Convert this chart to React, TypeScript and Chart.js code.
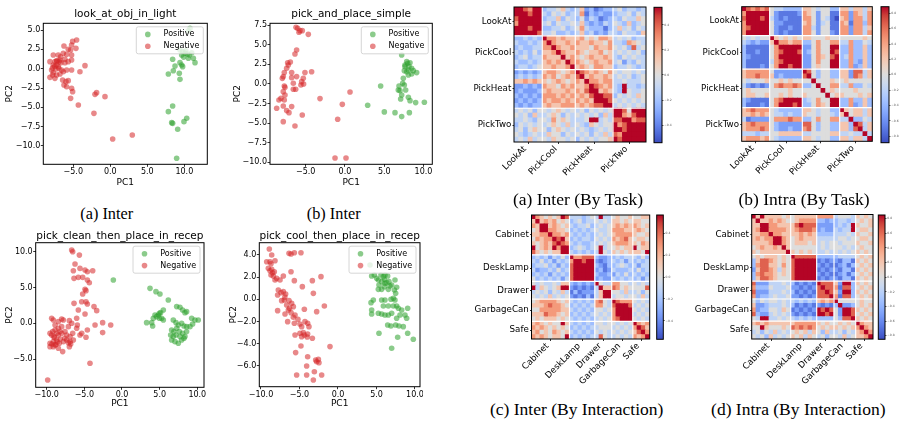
import React, { useEffect, useRef } from 'react';
import { Chart, registerables } from 'chart.js';

Chart.register(...registerables);

const SANS = '"DejaVu Sans", "Liberation Sans", sans-serif';
const SERIF = '"Liberation Serif", "Times New Roman", serif';
const POS_COLOR = 'rgba(44,160,44,0.55)';
const NEG_COLOR = 'rgba(214,39,40,0.55)';

// ---------------- scatter data (PC1, PC2) ----------------
const lookAtPositive = [
  [10.77, 5.22], [10.54, 4.91], [9.41, 2.41], [9.77, 2.2], [10.09, 1.98], [10.41, 1.9], [10.68, 1.77], [9.64, 1.77],
  [10.99, 2.07], [11.22, 1.34], [11.44, 0.78], [10.54, 1.34], [8.42, 1.21], [9.41, 0.78], [8.74, 0.34], [9.64, 0.47],
  [9.77, 0.26], [8.51, -0.26], [7.84, -0.69], [9.32, -0.6], [9.41, -1.38], [8.42, -4.83], [7.84, -5.56], [8.29, -6.98],
  [8.42, -7.07], [10.32, -6.42], [9.95, -6.85], [9.1, -7.84], [8.96, -11.59], [10.2, 2.3], [9.9, 1.5],
];
const lookAtNegative = [
  [-5.09, 3.53], [-4.55, 3.71], [-5.23, 3.06], [-6.26, 2.93], [-5.68, 2.5], [-4.64, 2.63], [-5.36, 2.41], [-6.35, 1.98],
  [-7.03, 1.77], [-7.7, 1.77], [-5.9, 1.85], [-5.23, 1.77], [-6.71, 1.55], [-6.13, 1.21], [-6.8, 1.12], [-7.25, 1.03],
  [-7.48, 0.91], [-6.67, 0.78], [-6.13, 0.78], [-5.68, 0.91], [-5.23, 1.12], [-8.15, 0.91], [-7.7, 0.47], [-7.25, 0.47],
  [-7.03, 0.26], [-7.34, -0.04], [-6.94, 0.04], [-6.58, -0.17], [-5.9, -0.17], [-5.23, -0.17], [-4.1, -0.39], [-3.42, 0.39],
  [-8.15, -1.12], [-7.79, -0.82], [-7.48, -1.25], [-7.93, -0.17], [-7.7, -0.52], [-7.25, -0.82], [-6.8, -0.69], [-6.35, -0.39],
  [-6.44, -1.47], [-5.99, -1.68], [-5.68, -1.55], [-6.26, -2.11], [-5.9, -2.33], [-5.23, -2.54], [-5.09, -2.97], [-5.36, -3.84],
  [-4.32, -4.7], [-1.85, -3.1], [-2.07, -3.32], [-0.72, -3.62], [-2.21, -5.78], [0.32, -9.09], [2.97, -8.58],
  [-7.2, 1.0], [-6.9, 0.9], [-7.5, 0.3], [-7.8, 0.1],
];
const pickPlacePositive = [
  [7.22, 3.7], [7.86, 2.85], [7.98, 2.64], [8.28, 2.72], [7.64, 2.21], [8.15, 2.21], [8.49, 2.0], [7.56, 1.7],
  [7.86, 1.57], [8.7, 1.7], [8.07, 1.15], [8.49, 1.28], [9.13, 1.45], [7.43, 0.72], [7.35, 0.09], [6.88, -0.26],
  [7.56, -0.13], [6.79, -0.77], [7.01, -0.85], [7.73, -0.77], [7.22, -1.4], [7.09, -1.91], [8.07, -1.7], [8.28, -2.13],
  [9.0, -2.38], [10.11, -2.34], [4.54, -0.26], [2.89, -2.72], [5.01, -3.57], [6.37, -3.66], [7.22, -4.17], [8.2, -3.66],
  [7.64, 2.43], [8.07, 1.79],
];
const pickPlaceNegative = [
  [-6.24, 7.23], [-6.03, 7.11], [-5.86, 6.6], [-5.44, 6.81], [-5.73, 6.81], [-4.67, 6.34], [-6.16, 4.34], [-6.37, 3.83],
  [-7.22, 2.43], [-7.3, 2.72], [-6.96, 2.81], [-7.43, 2.0], [-7.73, 1.45], [-7.86, 0.94], [-7.98, 0.72], [-6.79, 1.45],
  [-6.79, 0.81], [-6.16, 0.94], [-5.1, 1.45], [-4.25, 1.57], [-5.31, 0.72], [-5.52, 0.3], [-5.61, -0.13], [-5.27, 0.0],
  [-6.58, 0.09], [-7.73, -0.26], [-7.86, -0.98], [-7.64, -0.43], [-6.58, -0.68], [-6.28, -0.68], [-7.64, -1.4], [-8.15, -1.83],
  [-8.41, -2.04], [-7.73, -2.04], [-7.86, -2.81], [-8.7, -3.11], [-7.43, -3.4], [-6.79, -2.89], [-7.13, -3.66], [-5.44, -3.96],
  [-7.86, -4.81], [-6.37, -5.36], [-3.18, -1.87], [-0.34, -2.6], [-0.93, -4.51], [0.64, -1.02], [-1.27, -9.45], [0.13, -9.45],
];
const pickCleanPositive = [
  [-1.15, 6.05], [3.72, 4.88], [4.51, 4.42], [5.04, 4.09], [6.15, 3.26], [5.49, 1.86], [5.13, 1.49], [4.82, 1.16],
  [4.6, 0.93], [4.16, 0.7], [3.94, 0.09], [3.27, 0.09], [4.07, -0.37], [4.96, 0.7], [5.27, 0.7], [5.49, 0.47],
  [4.38, 1.16], [4.96, 1.4], [7.26, 2.33], [7.7, 2.23], [8.05, 1.86], [8.36, 1.49], [8.58, 1.63], [6.81, 0.47],
  [7.17, 0.09], [7.48, -0.23], [7.92, 0.0], [8.23, -0.37], [8.58, -0.47], [7.26, -0.7], [7.61, -1.16], [8.05, -1.4],
  [8.36, -1.86], [7.7, -1.86], [7.17, -1.63], [6.81, -1.86], [6.59, -2.33], [7.04, -2.56], [7.48, -2.79], [7.92, -2.33],
  [8.23, -2.09], [8.58, -1.16], [9.03, -0.47], [9.38, -0.09], [9.69, 0.47], [10.13, 0.47], [9.25, 0.7], [6.59, -0.93],
  [6.9, -1.16], [6.46, -1.63],
];
const pickCleanNegative = [
  [-6.68, 10.23], [-6.55, 10.0], [-5.66, 9.53], [-6.24, 8.28], [-5.58, 7.67], [-4.91, 7.44], [-4.6, 7.21], [-3.89, 7.35],
  [-6.46, 7.35], [-5.22, 6.42], [-6.37, 6.28], [-5.8, 6.42], [-4.6, 6.05], [-4.34, 5.67], [-4.91, 4.74], [-4.78, 4.56],
  [-5.22, 4.09], [-5.35, 3.02], [-4.78, 3.02], [-4.6, 2.7], [-6.37, 2.79], [-5.8, 1.86], [-3.72, 2.33], [-3.36, 1.77],
  [-4.91, 1.3], [-3.58, -0.23], [-2.57, 0.09], [-1.5, -0.23], [-4.6, -0.93], [-5.35, -1.4], [-4.78, -1.95], [-2.57, -1.3],
  [-4.25, -5.58], [-9.87, -7.91],
  [-9.34, 0.7], [-9.12, 0.47], [-8.01, 0.6], [-7.79, 0.47], [-8.45, 0.23], [-6.99, 0.37], [-6.68, 0.0], [-6.02, 0.7],
  [-5.93, -0.23], [-7.12, -0.47], [-8.01, -0.47], [-8.45, -0.7], [-8.89, -0.93], [-9.2, -1.16], [-9.56, -1.4], [-9.34, -1.63],
  [-9.03, -1.86], [-8.45, -1.63], [-8.01, -1.4], [-7.57, -1.16], [-7.35, -1.63], [-6.9, -1.86], [-6.55, -1.4], [-5.58, -1.63],
  [-6.02, -0.7], [-8.67, -2.33], [-9.12, -2.56], [-9.56, -2.79], [-8.89, -3.02], [-8.32, -2.79], [-7.79, -2.56], [-7.35, -2.33],
  [-6.9, -2.56], [-6.81, -2.88], [-9.56, -3.26], [-9.12, -3.26], [-8.45, -3.49], [-7.88, -3.95], [-6.99, -3.26], [-7.12, -2.7],
  [-6.46, -2.33], [-8.67, -1.4], [-8.23, -1.16], [-8.89, -0.23], [-9.0, -2.0], [-8.6, -2.6], [-8.2, -2.2], [-8.8, -3.0],
  [-9.3, -2.9], [-7.6, -2.1],
];
const pickCoolPositive = [
  [4.16, 3.09], [4.37, 2.1], [4.72, 2.19], [5.02, 1.89], [5.24, 1.74], [5.58, 2.19], [5.89, 2.04], [6.1, 2.19],
  [6.45, 2.1], [6.02, 1.8], [6.62, 1.59], [6.32, 1.5], [6.75, 1.2], [6.02, 1.14], [6.54, 0.9], [5.67, 0.9],
  [5.24, 0.9], [6.97, 1.29], [7.4, 1.74], [7.62, 1.08], [7.32, 0.84], [7.49, 0.54], [7.19, 0.09], [7.4, -0.06],
  [6.88, 0.0], [6.1, -0.06], [5.67, -0.06], [4.59, -0.06], [4.29, -0.3], [5.89, -0.6], [6.54, -0.6], [7.19, -0.6],
  [7.62, -0.6], [7.84, -0.81], [8.27, -0.96], [9.05, -0.81], [8.7, -1.41], [8.05, -1.41], [7.62, -1.71], [6.97, -1.26],
  [6.54, -1.41], [6.1, -1.41], [5.67, -1.32], [5.24, -1.26], [4.37, -0.96], [4.37, -1.32], [6.45, -2.31], [6.88, -2.4],
  [7.49, -2.31], [7.92, -2.4], [8.92, -1.71], [8.48, -2.46], [9.05, -3.06], [9.78, -3.6], [7.75, -3.42], [5.32, -3.06],
  [6.97, -4.41], [6.1, 1.44], [5.67, 1.59], [5.32, 1.29],
];
const pickCoolNegative = [
  [-8.92, 4.53], [-8.61, 3.99], [-9.26, 3.39], [-8.83, 3.39], [-8.18, 3.48], [-9.05, 2.79], [-8.83, 2.58], [-8.61, 2.7],
  [-8.27, 2.49], [-8.7, 2.19], [-8.4, 2.1], [-8.18, 1.74], [-7.97, 1.89], [-7.53, 1.74], [-6.36, 4.14], [-6.1, 4.08],
  [-5.67, 4.2], [-4.81, 4.2], [-7.1, 2.1], [-6.1, 2.49], [-5.67, 1.68], [-4.63, 1.14], [-3.33, 1.68], [-2.21, 2.04],
  [-3.2, 0.54], [-7.75, 0.84], [-7.4, 0.6], [-7.84, 0.39], [-7.1, 0.69], [-6.8, 0.48], [-6.97, -0.06], [-7.32, -0.12],
  [-6.36, -0.12], [-6.02, -0.36], [-6.67, -0.51], [-5.8, -0.66], [-7.84, -1.02], [-6.45, -0.96], [-6.88, -1.32], [-6.1, -1.2],
  [-5.58, -1.41], [-5.8, -1.62], [-4.37, -0.9], [-2.77, -1.11], [-1.77, -0.6], [-6.54, -2.01], [-5.67, -2.16], [-4.94, -2.22],
  [-4.72, -2.46], [-4.29, -2.01], [-3.94, -2.16], [-3.77, -2.46], [-5.58, -3.21], [-4.94, -3.06], [-4.37, -3.21], [-4.72, -3.36],
  [-3.94, -3.12], [-3.33, -3.51], [-4.81, -4.2], [-5.5, -4.8], [-3.94, -5.17], [-2.9, -5.47], [-2.77, -5.62], [-2.47, -5.71],
  [-2.55, -5.41], [-4.07, -6.01], [-5.37, -6.82], [-4.07, -6.82], [-3.07, -6.52], [-3.2, -7.27], [-2.12, -6.82], [-1.04, -4.26],
  [-8.7, 3.2], [-8.5, 2.4], [-6.3, -0.8], [-5.2, -1.8], [-4.0, -3.4], [-6.9, 0.2], [-4.5, -3.0],
];

const ticksHalfStep = [7.5, 5, 2.5, 0, -2.5, -5, -7.5, -10];
const ticksFive = [-10, -5, 0, 5, 10];
const ticksLookY = [5, 2.5, 0, -2.5, -5, -7.5, -10];
const ticksCleanY = [10, 5, 0, -5];
const ticksCoolY = [4, 2, 0, -2, -4, -6];

// ---------------- heatmap data (colour level 0 = deep blue ... 9 = deep red) ----------------
const taskLabels = ['LookAt', 'PickCool', 'PickHeat', 'PickTwo'];
const taskBlocks = [6, 7, 8, 7];
const interactionLabels = ['Cabinet', 'DeskLamp', 'Drawer', 'GarbageCan', 'Safe'];
const interactionBlocks = [9, 6, 4, 5, 4];

const interTaskRows = [
  '998799 3445643 46231233 4534434',
  '999899 4354534 47132322 3445354',
  '899999 3446354 35243123 4354465',
  '799999 4535445 46323243 5436345',
  '999899 3344534 57433313 4645354',
  '999998 4453343 46342324 4354436',
  '334343 9776766 67565776 4545344',
  '433434 7976676 76676657 4437654',
  '343344 7797667 66657667 5453845',
  '434353 6679766 76566756 4545453',
  '345344 7666967 65676676 4354544',
  '433434 6767697 76567667 4524354',
  '344345 6676679 67657766 3445434',
  '232323 6776567 98767657 5455454',
  '343434 7675676 89676676 4545345',
  '667676 6567656 76977677 4454445',
  '223232 7665767 66798767 4394434',
  '232223 6766676 76899676 4395445',
  '323232 7776767 67689988 3545465',
  '232323 7677676 76769998 5454545',
  '323233 6766777 67678899 4545454',
  '454535 5456545 45354545 9985999',
  '545364 4565354 54545364 9976899',
  '445435 5475654 44599454 8899788',
  '354545 4565464 54365455 9789999',
  '453565 5356545 45434545 9989999',
  '543454 4655354 54535464 8799999',
  '454645 5465545 35454556 9899999',
];
const intraTaskRows = [
  '987878 5443333 66545533 6646646',
  '799999 5211112 76525511 7727647',
  '899989 4212111 77525410 6727747',
  '799999 5221111 67524511 7617737',
  '789999 5211211 77425511 7727746',
  '799999 5212111 77525521 7727747',
  '545455 9656565 66555655 5555565',
  '432322 6977677 33575577 4473354',
  '311111 5799999 22575599 3373363',
  '311211 5789998 23575598 3373363',
  '321111 5799999 22576589 3473363',
  '311111 4789999 22575599 3373263',
  '311121 5799899 22565599 3372363',
  '677777 5222222 98535533 6628846',
  '677877 6232222 89535533 6628746',
  '545556 5565655 55955565 5655555',
  '421212 5787787 33595577 4473354',
  '565555 5555655 55559565 5556555',
  '566556 5565655 65555956 6555656',
  '321111 5789999 34575599 3373363',
  '311121 5799989 33576599 3372363',
  '678777 5433333 66545533 9656646',
  '667676 5443433 65545543 6956646',
  '412222 5777877 33575577 4493354',
  '678777 5322222 88535533 6639846',
  '677787 5322322 78535533 6638946',
  '444344 5566666 44555566 4454494',
  '677767 5433333 66545533 6646649',
];
const interInteractionRows = [
  '976565698 444345 4944 56556 5566',
  '696767565 345344 5454 66565 6655',
  '769967656 434453 4545 67676 7656',
  '569977665 343434 5445 77766 6765',
  '667797767 434343 4545 67777 6556',
  '576779896 343443 5454 76786 5665',
  '656768987 434334 4545 67776 6576',
  '956769799 345434 5945 56566 9566',
  '865656699 434343 4954 65656 6659',
  '343424353 977888 3223 34344 4353',
  '435342434 799899 2123 43424 3434',
  '344534243 899999 3213 34543 4244',
  '423343534 899999 2312 43334 3534',
  '343424343 899999 3223 24353 4343',
  '534343424 899999 2322 43434 3424',
  '545445466 323232 9544 77554 5454',
  '946545699 212121 4966 87565 5558',
  '454535464 131222 4699 55464 4535',
  '545464545 212131 4699 45545 5464',
  '567777656 434343 7854 98777 5454',
  '666787765 343434 7754 89998 4545',
  '557777766 434343 5545 79999 5454',
  '666877656 343434 5454 79999 4545',
  '565666565 434343 4545 78999 5454',
  '676565596 434343 5545 54545 9767',
  '767656565 343434 4555 45454 7986',
  '675657656 434343 5454 54545 6897',
  '767656659 343434 4854 45454 7679',
];
const intraInteractionRows = [
  '969666656 566666 7777 45554 6565',
  '696676765 567777 3323 34434 5656',
  '669977666 689888 2222 34349 6556',
  '679977776 678887 2322 43449 5665',
  '667797766 667676 3333 44454 6556',
  '676779976 567666 4444 45545 5665',
  '666679976 566656 4545 54555 6556',
  '567667696 555555 4545 55454 5655',
  '656666669 656565 4454 54545 6565',
  '565666565 988888 3333 34444 5656',
  '368876565 899999 1212 21331 6565',
  '378866575 899999 2121 12313 5656',
  '268876465 899999 1212 21331 6565',
  '378776565 899999 2121 12313 5656',
  '368876555 899999 1212 21331 6565',
  '822244454 312121 9888 62993 6565',
  '733354445 221212 8988 71883 5656',
  '822244454 312121 8898 62993 6565',
  '723345445 221212 8889 71883 5656',
  '535455454 434343 6767 95555 5655',
  '622344454 312121 2121 39223 5656',
  '723355465 121212 9898 52998 6565',
  '832245454 212121 9989 52998 5656',
  '549944545 434343 3333 53889 6565',
  '676766666 677777 6565 56565 9766',
  '559655565 878787 5656 65656 7976',
  '453546454 565646 5364 45354 6797',
  '545364545 656465 4535 54645 6679',
];

const cbarTicksSmall = [0.4, 0.2, 0, -0.2, -0.4];
const cbarTicksLarge = [0.8, 0.6, 0.4, 0.2, 0, -0.2, -0.4, -0.6, -0.8];

// ---------------- colour map ----------------
const LEVEL_T = [0, 0.1, 0.2, 0.3, 0.4, 0.5, 0.62, 0.75, 0.87, 1];
const COOLWARM = [
  [0, 59, 76, 192], [0.0625, 77, 104, 215], [0.125, 98, 130, 234], [0.1875, 119, 154, 247],
  [0.25, 141, 176, 254], [0.3125, 163, 194, 255], [0.375, 184, 208, 249], [0.4375, 204, 217, 238],
  [0.5, 221, 221, 221], [0.5625, 236, 211, 197], [0.625, 245, 196, 173], [0.6875, 247, 177, 148],
  [0.75, 244, 154, 123], [0.8125, 236, 127, 99], [0.875, 222, 96, 77], [0.9375, 203, 62, 56], [1, 180, 4, 38],
];
function coolwarm(t: number): string {
  const tt = Math.max(0, Math.min(1, t));
  for (let i = 1; i < COOLWARM.length; i++) {
    const a = COOLWARM[i - 1];
    const b = COOLWARM[i];
    if (tt <= b[0]) {
      const f = (tt - a[0]) / (b[0] - a[0]);
      const r = Math.round(a[1] + (b[1] - a[1]) * f);
      const g = Math.round(a[2] + (b[2] - a[2]) * f);
      const bl = Math.round(a[3] + (b[3] - a[3]) * f);
      return `rgb(${r},${g},${bl})`;
    }
  }
  return 'rgb(180,4,38)';
}

const fmtTick = (v: number, digits = 1) => (v < 0 ? '\u2212' : '') + Math.abs(v).toFixed(digits);

// ---------------- plugins ----------------
const framePlugin = {
  id: 'frame',
  afterDatasetsDraw(chart: any) {
    const { ctx, chartArea: a } = chart;
    ctx.save();
    ctx.strokeStyle = '#000';
    ctx.lineWidth = 1;
    ctx.strokeRect(a.left, a.top, a.right - a.left, a.bottom - a.top);
    ctx.restore();
  },
};

const legendPlugin = {
  id: 'insideLegend',
  afterDraw(chart: any) {
    const { ctx, chartArea: a } = chart;
    const w = 67;
    const h = 27;
    const x0 = a.right - 4 - w;
    const y0 = a.top + 3.5;
    ctx.save();
    ctx.fillStyle = 'rgba(255,255,255,0.8)';
    ctx.strokeStyle = '#cccccc';
    ctx.lineWidth = 0.8;
    ctx.beginPath();
    ctx.roundRect(x0, y0, w, h, 2);
    ctx.fill();
    ctx.stroke();
    const items = chart.data.datasets;
    items.forEach((ds: any, i: number) => {
      const cy = y0 + 7.6 + i * 11.8;
      ctx.fillStyle = ds.backgroundColor;
      ctx.beginPath();
      ctx.arc(x0 + 11.5, cy, 2.8, 0, Math.PI * 2);
      ctx.fill();
      ctx.fillStyle = '#000';
      ctx.font = `8px ${SANS}`;
      ctx.textBaseline = 'middle';
      ctx.textAlign = 'left';
      ctx.fillText(ds.label, x0 + 27.3, cy);
    });
    ctx.restore();
  },
};

// ---------------- scatter panel ----------------
interface ScatterSpec {
  title: string;
  pos: number[][];
  neg: number[][];
  xMin: number; xMax: number; yMin: number; yMax: number;
  xTicks: number[]; yTicks: number[];
  L: number; T: number; R: number; B: number;
  titleY: number; pc1Y: number; pc2X: number;
}

function ScatterPanel({ spec }: { spec: ScatterSpec }) {
  const ref = useRef<HTMLCanvasElement>(null);
  const cl = Math.floor(spec.pc2X - 7);
  const ct = Math.floor(spec.titleY - 8);
  const cr = Math.ceil(spec.R + 3);
  const cb = Math.ceil(spec.pc1Y + 7);
  const W = cr - cl;
  const H = cb - ct;
  useEffect(() => {
    const yW = spec.L - cl;
    const xH = cb - spec.B;
    const tlh = 10.5 * 1.2;
    const grid = { drawOnChartArea: false, drawTicks: true, tickLength: 2.5, color: '#000', lineWidth: 0.8 };
    const tickFont = { family: SANS, size: 8 };
    const chart = new Chart(ref.current as HTMLCanvasElement, {
      type: 'scatter',
      data: {
        datasets: [
          { label: 'Positive', data: spec.pos.map(([x, y]) => ({ x, y })), backgroundColor: POS_COLOR, borderWidth: 0, pointRadius: 2.8, pointHoverRadius: 2.8 },
          { label: 'Negative', data: spec.neg.map(([x, y]) => ({ x, y })), backgroundColor: NEG_COLOR, borderWidth: 0, pointRadius: 2.8, pointHoverRadius: 2.8 },
        ],
      },
      options: {
        responsive: false,
        animation: false,
        events: [],
        layout: { padding: { left: 0, top: 0, right: cr - spec.R, bottom: 0 } },
        plugins: {
          legend: { display: false },
          tooltip: { enabled: false },
          title: {
            display: true,
            fullSize: false,
            text: spec.title,
            color: '#000',
            font: { family: SANS, size: 10.5, weight: 'normal', lineHeight: 1.2 },
            padding: { top: spec.titleY - ct - tlh / 2, bottom: spec.T - spec.titleY - tlh / 2 },
          },
        },
        scales: {
          x: {
            type: 'linear',
            min: spec.xMin,
            max: spec.xMax,
            afterBuildTicks: (s: any) => { s.ticks = spec.xTicks.map((v) => ({ value: v })); },
            afterFit: (s: any) => { s.height = xH; s.paddingLeft = 0; s.paddingRight = 0; },
            ticks: { color: '#000', font: tickFont, padding: 0.5, maxRotation: 0, autoSkip: false, callback: (v: any) => fmtTick(Number(v)) },
            grid,
            border: { display: false },
            title: { display: true, text: 'PC1', color: '#000', font: { family: SANS, size: 9, lineHeight: 1.2 }, padding: { top: 0, bottom: cb - spec.pc1Y - 5.4 } },
          },
          y: {
            type: 'linear',
            min: spec.yMin,
            max: spec.yMax,
            afterBuildTicks: (s: any) => { s.ticks = spec.yTicks.map((v) => ({ value: v })); },
            afterFit: (s: any) => { s.width = yW; s.paddingTop = 0; s.paddingBottom = 0; },
            ticks: { color: '#000', font: tickFont, padding: 0.5, autoSkip: false, callback: (v: any) => fmtTick(Number(v)) },
            grid,
            border: { display: false },
            title: { display: true, text: 'PC2', color: '#000', font: { family: SANS, size: 9, lineHeight: 1.2 }, padding: { top: spec.pc2X - cl - 5.4, bottom: 0 } },
          },
        },
      } as any,
      plugins: [framePlugin, legendPlugin],
    });
    return () => chart.destroy();
  }, []);
  return <canvas ref={ref} width={W} height={H} style={{ position: 'absolute', left: cl, top: ct, width: W, height: H }} />;
}

// ---------------- heatmap panel ----------------
interface HeatSpec {
  rows: string[];
  labels: string[];
  blocks: number[];
  L: number; T: number; R: number; B: number;
  canvasLeft: number;
}

function HeatmapPanel({ spec }: { spec: HeatSpec }) {
  const ref = useRef<HTMLCanvasElement>(null);
  const cl = spec.canvasLeft;
  const ct = Math.floor(spec.T - 3);
  const cr = Math.ceil(spec.R + 3);
  const xH = 50;
  const cb = Math.ceil(spec.B + xH);
  const W = cr - cl;
  const H = cb - ct;
  useEffect(() => {
    const grid = spec.rows.map((r) => r.replace(/ /g, '').split('').map(Number));
    const n = grid.length;
    const cells: any[] = [];
    const colors: string[] = [];
    grid.forEach((row, r) => row.forEach((lvl, c) => {
      cells.push({ x: c + 0.5, y: [r, r + 1] });
      colors.push(coolwarm(LEVEL_T[lvl]));
    }));
    const bounds: number[] = [];
    const centers: number[] = [];
    let acc = 0;
    spec.blocks.forEach((b, i) => {
      centers.push(acc + b / 2);
      acc += b;
      if (i < spec.blocks.length - 1) bounds.push(acc);
    });
    const yW = spec.L - cl;
    const realH = cb - spec.B;
    const overlay = {
      id: 'heatOverlay',
      afterDatasetsDraw(chart: any) {
        const { ctx, chartArea: a, scales } = chart;
        ctx.save();
        ctx.strokeStyle = '#fff';
        ctx.lineWidth = 1.2;
        bounds.forEach((b) => {
          const px = scales.x.getPixelForValue(b);
          const py = scales.y.getPixelForValue(b);
          ctx.beginPath(); ctx.moveTo(px, a.top); ctx.lineTo(px, a.bottom); ctx.stroke();
          ctx.beginPath(); ctx.moveTo(a.left, py); ctx.lineTo(a.right, py); ctx.stroke();
        });
        ctx.strokeStyle = '#000';
        ctx.lineWidth = 1;
        ctx.strokeRect(a.left, a.top, a.right - a.left, a.bottom - a.top);
        ctx.restore();
      },
    };
    const gridOpts = { drawOnChartArea: false, drawTicks: true, tickLength: 2, color: '#000', lineWidth: 0.8, offset: false };
    const font = { family: SANS, size: 8.7 };
    const chart = new Chart(ref.current as HTMLCanvasElement, {
      type: 'bar',
      data: {
        datasets: [{ data: cells, backgroundColor: colors, borderWidth: 0, barPercentage: 1, categoryPercentage: 1, inflateAmount: 0.4 }],
      },
      options: {
        responsive: false,
        animation: false,
        events: [],
        layout: { padding: { left: 0, top: spec.T - ct, right: cr - spec.R, bottom: 0 } },
        plugins: { legend: { display: false }, tooltip: { enabled: false } },
        scales: {
          x: {
            type: 'linear', min: 0, max: n, offset: false,
            afterBuildTicks: (s: any) => { s.ticks = centers.map((v) => ({ value: v })); },
            afterFit: (s: any) => { s.height = realH; s.paddingLeft = 0; s.paddingRight = 0; },
            ticks: { autoSkip: false, minRotation: 45, maxRotation: 45, padding: 0, labelOffset: -3, color: '#000', font, callback: (_v: any, i: number) => spec.labels[i] },
            grid: gridOpts,
            border: { display: false },
          },
          y: {
            type: 'linear', min: 0, max: n, reverse: true, offset: false,
            afterBuildTicks: (s: any) => { s.ticks = centers.map((v) => ({ value: v })); },
            afterFit: (s: any) => { s.width = yW; s.paddingTop = 0; s.paddingBottom = 0; },
            ticks: { autoSkip: false, padding: 1.2, color: '#000', font, callback: (_v: any, i: number) => spec.labels[i] },
            grid: { ...gridOpts, tickLength: 1.5 },
            border: { display: false },
          },
        },
      } as any,
      plugins: [overlay],
    });
    return () => chart.destroy();
  }, []);
  return <canvas ref={ref} width={W} height={H} style={{ position: 'absolute', left: cl, top: ct, width: W, height: H }} />;
}

// ---------------- colour bar ----------------
interface CbarSpec { L: number; T: number; R: number; B: number; vmax: number; ticks: number[] }

function ColorBar({ spec }: { spec: CbarSpec }) {
  const ref = useRef<HTMLCanvasElement>(null);
  const cl = Math.floor(spec.L) - 1;
  const ct = Math.floor(spec.T) - 2;
  const cr = Math.ceil(spec.R) + 12;
  const cb = Math.ceil(spec.B) + 2;
  const W = cr - cl;
  const H = cb - ct;
  useEffect(() => {
    const axisW = cr - spec.R;
    const chart = new Chart(ref.current as HTMLCanvasElement, {
      type: 'bar',
      data: {
        labels: [''],
        datasets: [{
          data: [[-spec.vmax, spec.vmax]],
          borderWidth: 0,
          barPercentage: 1,
          categoryPercentage: 1,
          backgroundColor: (c: any) => {
            const a = c.chart.chartArea;
            if (!a) return '#ddd';
            const g = c.chart.ctx.createLinearGradient(0, a.bottom, 0, a.top);
            COOLWARM.forEach((s) => g.addColorStop(s[0], `rgb(${s[1]},${s[2]},${s[3]})`));
            return g;
          },
        }],
      },
      options: {
        responsive: false,
        animation: false,
        events: [],
        layout: { padding: { left: spec.L - cl, top: spec.T - ct, right: 0, bottom: cb - spec.B } },
        plugins: { legend: { display: false }, tooltip: { enabled: false } },
        scales: {
          x: { display: false },
          y: {
            position: 'right', min: -spec.vmax, max: spec.vmax,
            afterBuildTicks: (s: any) => { s.ticks = spec.ticks.map((v) => ({ value: v })); },
            afterFit: (s: any) => { s.width = axisW; s.paddingTop = 0; s.paddingBottom = 0; },
            ticks: { autoSkip: false, padding: 0.8, color: '#555', font: { family: SANS, size: 3 }, callback: (v: any) => fmtTick(Number(v)) },
            grid: { drawOnChartArea: false, drawTicks: true, tickLength: 1.5, color: '#000', lineWidth: 0.6 },
            border: { display: false },
          },
        },
      } as any,
      plugins: [framePlugin],
    });
    return () => chart.destroy();
  }, []);
  return <canvas ref={ref} width={W} height={H} style={{ position: 'absolute', left: cl, top: ct, width: W, height: H }} />;
}

function Caption({ text, x, y, size }: { text: string; x: number; y: number; size: number }) {
  return (
    <div style={{ position: 'absolute', left: x, top: y, transform: 'translate(-50%, -50%)', fontFamily: SERIF, fontSize: size, lineHeight: 1, whiteSpace: 'nowrap', color: '#000' }}>
      {text}
    </div>
  );
}

// ---------------- panel specs ----------------
const scatterSpecs: ScatterSpec[] = [
  { title: 'look_at_obj_in_light', pos: lookAtPositive, neg: lookAtNegative, xMin: -9.05, xMax: 13.1, yMin: -12.37, yMax: 5.87, xTicks: [-5, 0, 5, 10], yTicks: ticksLookY, L: 43.3, T: 23.3, R: 207.3, B: 164.3, titleY: 14.3, pc1Y: 182.7, pc2X: 10 },
  { title: 'pick_and_place_simple', pos: pickPlacePositive, neg: pickPlaceNegative, xMin: -9.55, xMax: 11.12, yMin: -10.26, yMax: 7.75, xTicks: [-5, 0, 5, 10], yTicks: ticksHalfStep, L: 270, T: 23.3, R: 432.3, B: 164.3, titleY: 14.3, pc1Y: 182.7, pc2X: 237.3 },
  { title: 'pick_clean_then_place_in_recep', pos: pickCleanPositive, neg: pickCleanNegative, xMin: -11.46, xMax: 10.89, yMin: -8.94, yMax: 11.26, xTicks: ticksFive, yTicks: ticksCleanY, L: 35.7, T: 242.7, R: 204, B: 387.3, titleY: 236.3, pc1Y: 404, pc2X: 9.3 },
  { title: 'pick_cool_then_place_in_recep', pos: pickCoolPositive, neg: pickCoolNegative, xMin: -10.22, xMax: 10.65, yMin: -7.87, yMax: 5.1, xTicks: ticksFive, yTicks: ticksCoolY, L: 259.3, T: 242.7, R: 420, B: 386.7, titleY: 236.7, pc1Y: 404, pc2X: 233.3 },
];

const heatSpecs: HeatSpec[] = [
  { rows: interTaskRows, labels: taskLabels, blocks: taskBlocks, L: 514, T: 7, R: 646, B: 142, canvasLeft: 468 },
  { rows: intraTaskRows, labels: taskLabels, blocks: taskBlocks, L: 741.7, T: 6.7, R: 872.3, B: 141.3, canvasLeft: 694 },
  { rows: interInteractionRows, labels: interactionLabels, blocks: interactionBlocks, L: 531.5, T: 215, R: 649.7, B: 339, canvasLeft: 466 },
  { rows: intraInteractionRows, labels: interactionLabels, blocks: interactionBlocks, L: 751.7, T: 214.5, R: 873, B: 339, canvasLeft: 688 },
];

const cbarSpecs: CbarSpec[] = [
  { L: 654, T: 7.3, R: 662, B: 142.7, vmax: 0.54, ticks: cbarTicksSmall },
  { L: 881, T: 6.7, R: 889, B: 142.7, vmax: 0.886, ticks: cbarTicksLarge },
  { L: 656.7, T: 215, R: 663.3, B: 339.3, vmax: 0.57, ticks: cbarTicksSmall },
  { L: 878.3, T: 215, R: 885, B: 339.3, vmax: 0.85, ticks: cbarTicksLarge },
];

export default function App() {
  return (
    <div style={{ position: 'absolute', left: 0, top: 0, width: 902, height: 424, background: '#fff', overflow: 'hidden' }}>
      {scatterSpecs.map((s, i) => <ScatterPanel key={'s' + i} spec={s} />)}
      {heatSpecs.map((s, i) => <HeatmapPanel key={'h' + i} spec={s} />)}
      {cbarSpecs.map((s, i) => <ColorBar key={'c' + i} spec={s} />)}
      <Caption text="(a) Inter" x={106.7} y={213.7} size={16.3} />
      <Caption text="(b) Inter" x={333.7} y={213.7} size={16.3} />
      <Caption text="(a) Inter (By Task)" x={578} y={200.3} size={17.5} />
      <Caption text="(b) Intra (By Task)" x={804} y={200.3} size={17.5} />
      <Caption text="(c) Inter (By Interaction)" x={576.7} y={409.5} size={17.5} />
      <Caption text="(d) Intra (By Interaction)" x={798.3} y={409.5} size={17.5} />
    </div>
  );
}
